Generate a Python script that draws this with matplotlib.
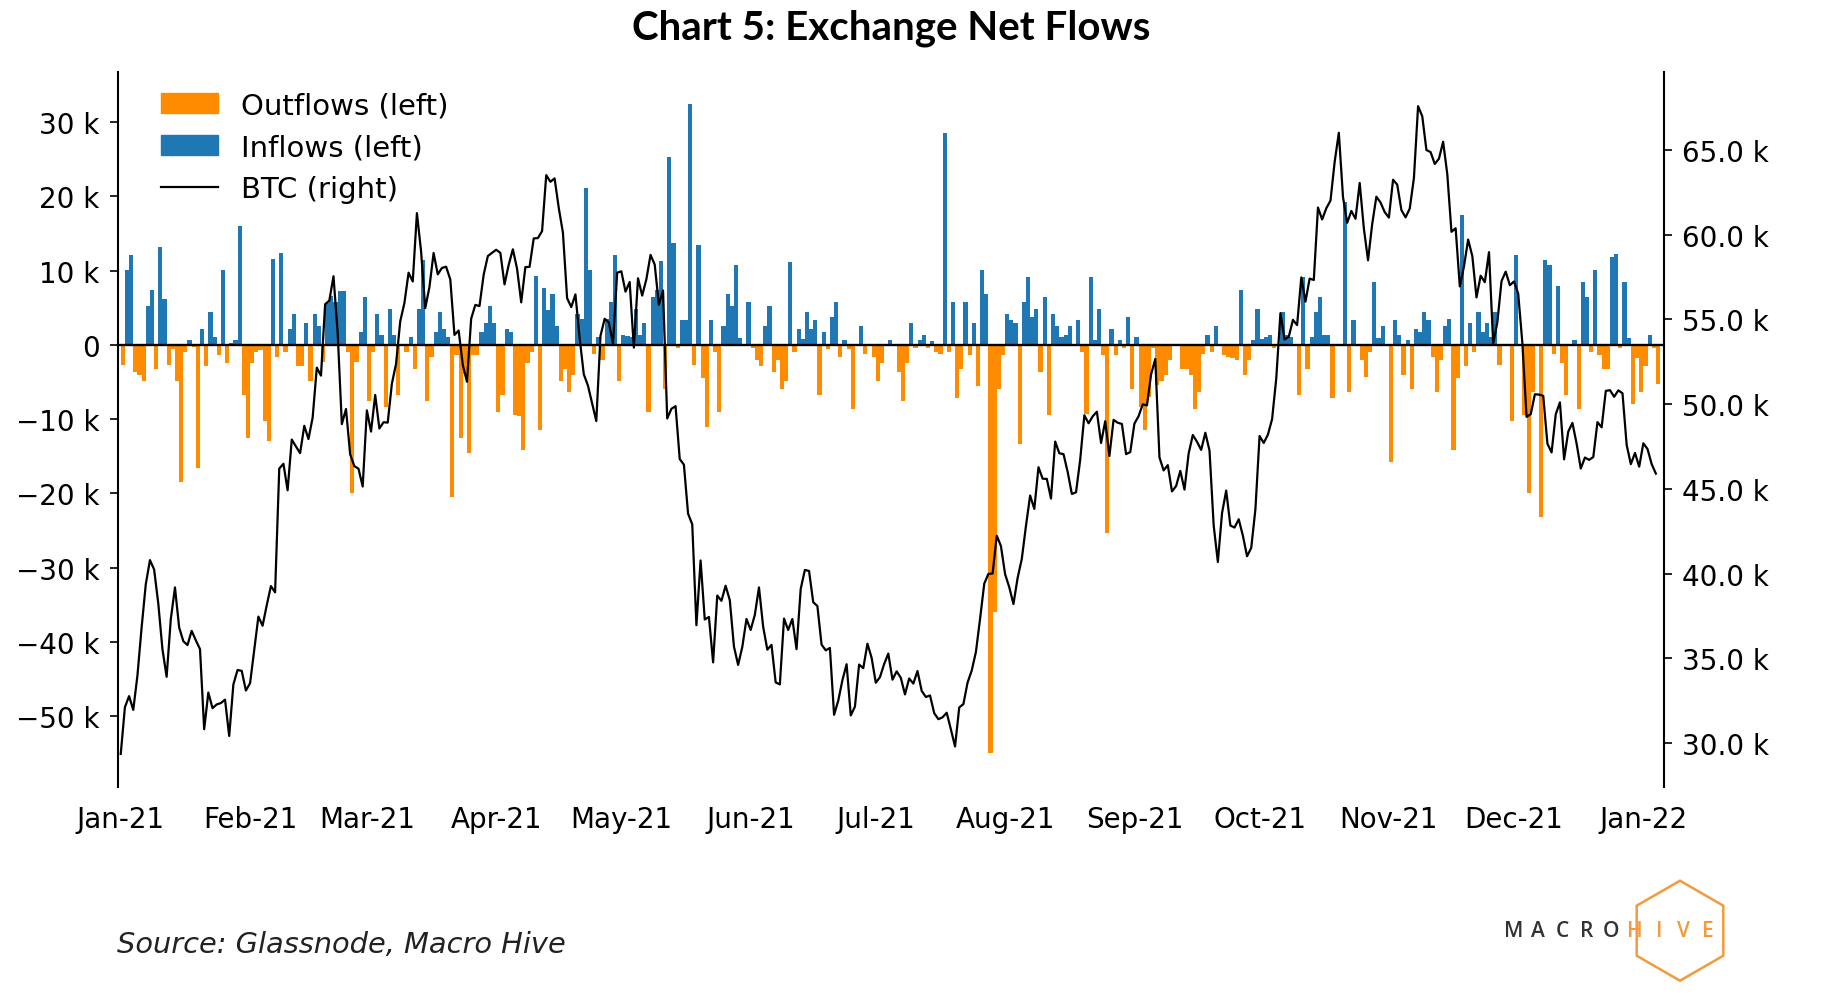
#!/usr/bin/env python3
"""Chart 5: exchange net flows (daily, 2021) against the BTC price."""

import numpy as np
import pandas as pd
import matplotlib

matplotlib.use("Agg")
import matplotlib.pyplot as plt
import matplotlib.dates as mdates
from matplotlib.lines import Line2D
from matplotlib.patches import Patch, RegularPolygon
from matplotlib.ticker import EngFormatter, MultipleLocator


# daily net exchange flows, thousands of BTC (negative = outflow)
flow_jan = [-2.7, 10.1, 12.1, -3.6, -4.0, -4.8, 5.3, 7.4, -3.2, 13.2, 6.2, -2.7, -0.5, -4.8, -18.5, -0.9,
            0.6, -0.3, -16.6, 2.2, -2.8, 4.5, 1.1, -1.3, 10.1, -2.5, 0.2, 0.6, 16.0, -6.7, -12.6]
flow_feb = [-2.4, -0.9, -0.7, -10.3, -13.0, 11.6, -1.6, 12.4, -0.9, 2.2, 4.1, -2.8, -2.8, 3.0, -4.8, 4.1,
            2.6, -2.3, 5.6, 6.6, 5.8, 7.3, 7.3, -0.9, -20.0, -2.3, 1.8, 6.5]
flow_mar = [-7.6, -1.0, 4.1, 1.4, -8.4, 4.9, 1.3, -6.7, 0.0, -0.9, 1.1, -3.2, 4.9, 11.5, -7.5, -1.6,
            1.8, 4.5, 2.2, 1.1, -20.5, -1.4, -12.6, -3.9, -14.6, -1.4, -1.4, 1.8, 2.9, 5.3, 2.9]
flow_apr = [-9.0, -6.7, 2.2, 1.8, -9.5, -9.6, -14.2, -2.4, -0.9, 9.3, -11.5, 7.7, 4.7, 6.9, 2.6, -4.8,
            -3.3, -6.3, -4.0, 4.2, 3.5, 21.1, 10.1, -1.2, 1.1, -2.1, 3.5, 5.8, 12.1, -4.8]
flow_may = [1.3, 1.2, 1.0, 4.9, 1.4, 3.0, -9.0, 6.5, 7.4, 11.3, -5.9, 25.3, 13.7, -0.4, 3.3, 3.3,
            32.4, -2.7, 13.5, -4.4, -11.1, 3.3, -0.9, -9.0, 2.6, 6.9, 5.3, 10.8, 0.9, 0.0, 5.8]
flow_jun = [-0.4, -2.1, -2.8, 2.6, 5.3, -3.6, -2.1, -5.9, -4.8, 11.2, -0.9, 2.2, 0.8, 4.5, 2.2, 3.3,
            -6.7, 1.8, -0.5, 3.8, 5.8, -1.6, 0.6, -0.5, -8.7, 0.0, 2.6, -1.2, 0.0, -1.6]
flow_jul = [-4.8, -2.4, 0.0, 0.6, 0.0, -3.6, -7.6, -2.4, 2.9, -0.4, 0.6, 1.4, -0.4, 0.5, -0.9, -1.2,
            28.5, -0.9, 5.8, -7.1, -3.2, 5.8, -1.3, 3.0, -5.5, 10.1, 6.9, -55.0, -36.0, -5.9, -1.3]
flow_aug = [4.1, 3.3, 2.9, -13.4, 5.8, 9.2, 3.8, 4.9, -3.6, 6.5, -9.5, 4.1, 2.6, 1.1, 1.4, 2.6,
            0.0, 3.3, -0.9, -9.3, 9.2, 0.6, 4.9, -1.3, -25.4, 2.2, -1.3, 0.6, -0.4, 3.8, -5.9]
flow_sep = [1.1, -8.4, -11.5, -7.0, -0.4, -5.4, -4.8, -4.0, -2.1, 0.0, 0.0, -3.2, -3.3, -4.0, -8.7, -6.3,
            -1.2, 1.4, -0.9, 2.6, 0.0, -1.3, -1.6, -1.8, -2.1, 7.4, -4.0, -2.1, 0.6, 4.9]
flow_oct = [0.8, 1.1, 1.4, -0.4, 0.0, 4.5, 1.4, 1.1, 0.0, -6.7, 9.2, -3.2, 1.1, 4.5, 6.5, 1.4,
            1.4, -7.1, 0.0, 0.0, 19.3, -6.3, 3.3, 0.0, -2.1, -4.3, -0.9, 8.5, 0.9, 2.6, 0.0]
flow_nov = [-15.8, 3.3, 1.4, -4.0, 0.6, -5.9, 2.2, 1.8, 4.5, 3.3, -1.6, -6.3, -2.1, 2.6, 3.5, -14.2,
            -4.4, 17.5, -2.8, 2.9, -0.9, 4.5, 1.8, 2.9, 1.1, 4.5, -2.7, 0.0, 0.0, -10.3]
flow_dec = [12.1, 0.0, -9.5, -20.0, -6.3, 0.0, -23.2, 11.4, 10.8, -1.2, 8.0, -2.4, -6.7, 0.0, 0.6, -8.7,
            8.5, 6.5, -0.9, 10.1, -1.4, -3.2, -3.2, 11.9, 12.3, -0.4, 8.5, 0.9, -7.9, -1.8, -6.3]
flow_jan22 = [-2.8, 1.4, -0.4, -5.2]

# daily BTC close, thousands of USD
btc_jan = [29.37, 32.13, 32.78, 31.97, 33.99, 36.82, 39.37, 40.80, 40.25, 38.24, 35.54, 33.92, 37.32,
           39.19, 36.83, 36.02, 35.79, 36.63, 36.07, 35.55, 30.83, 32.99, 32.07, 32.29, 32.37, 32.57,
           30.43, 33.47, 34.32, 34.27, 33.11]
btc_feb = [33.54, 35.51, 37.47, 36.93, 38.14, 39.27, 38.90, 46.20, 46.48, 44.92, 47.91, 47.50, 47.11,
           48.72, 47.94, 49.20, 52.15, 51.68, 55.89, 56.10, 57.54, 54.21, 48.82, 49.71, 47.03, 46.34,
           46.19, 45.14]
btc_mar = [49.63, 48.38, 50.54, 48.56, 48.93, 48.91, 51.21, 52.38, 54.88, 55.96, 57.75, 57.23, 61.26,
           59.00, 55.66, 56.90, 58.91, 57.65, 58.03, 58.10, 57.35, 54.08, 54.34, 52.30, 51.32, 55.03,
           55.85, 55.78, 57.63, 58.73, 58.92]
btc_apr = [59.10, 58.92, 57.06, 58.21, 59.13, 57.99, 56.00, 58.08, 58.09, 59.77, 59.79, 60.20, 63.50,
           63.11, 63.31, 61.57, 60.11, 56.25, 55.72, 56.47, 53.91, 51.76, 51.09, 50.05, 49.00, 54.02,
           55.03, 54.82, 53.56, 57.75]
btc_may = [57.83, 56.63, 57.20, 53.33, 57.42, 56.40, 57.36, 58.80, 58.23, 55.86, 56.70, 49.15, 49.72,
           49.88, 46.76, 46.43, 43.54, 42.91, 36.96, 40.78, 37.30, 37.45, 34.77, 38.71, 38.40, 39.29,
           38.44, 35.70, 34.62, 35.68, 37.33]
btc_jun = [36.68, 37.57, 39.19, 36.87, 35.52, 35.80, 33.59, 33.47, 37.35, 36.68, 37.33, 35.55, 39.10,
           40.22, 40.16, 38.32, 38.09, 35.82, 35.48, 35.62, 31.68, 32.51, 33.72, 34.66, 31.64, 32.16,
           34.64, 34.43, 35.87, 35.04]
btc_jul = [33.57, 33.90, 34.67, 35.29, 33.75, 34.24, 33.86, 32.88, 33.82, 33.52, 34.26, 33.09, 32.73,
           32.82, 31.78, 31.42, 31.53, 31.80, 30.82, 29.81, 32.11, 32.31, 33.58, 34.29, 35.38, 37.34,
           39.41, 39.99, 40.01, 42.24, 41.63]
btc_aug = [39.97, 39.20, 38.21, 39.75, 40.87, 42.82, 44.61, 43.82, 46.28, 45.60, 45.59, 44.43, 47.79,
           47.10, 47.05, 46.00, 44.70, 44.80, 46.72, 49.34, 48.87, 49.28, 49.55, 47.71, 48.99, 46.94,
           49.07, 48.90, 48.83, 47.05, 47.17]
btc_sep = [48.85, 49.29, 49.99, 49.92, 51.76, 52.66, 46.86, 46.09, 46.40, 44.85, 45.17, 46.06, 44.96,
           47.09, 48.18, 47.78, 47.30, 48.31, 47.26, 42.84, 40.69, 43.57, 44.90, 42.84, 42.72, 43.21,
           42.24, 41.03, 41.52, 43.79]
btc_oct = [48.12, 47.71, 48.20, 49.11, 51.51, 55.36, 53.81, 53.97, 54.97, 54.66, 57.47, 56.04, 57.40,
           57.32, 61.59, 60.89, 61.55, 62.00, 64.28, 66.00, 62.21, 60.69, 61.39, 60.93, 63.04, 60.36,
           58.48, 60.62, 62.23, 61.89, 61.32]
btc_nov = [61.00, 63.23, 62.94, 61.44, 61.01, 61.53, 63.33, 67.57, 66.97, 64.98, 64.86, 64.16, 64.47,
           65.47, 63.56, 60.16, 60.37, 56.94, 58.12, 59.70, 58.73, 56.29, 57.57, 57.19, 58.96, 53.57,
           54.82, 57.25, 57.81, 57.01]
btc_dec = [57.23, 56.51, 53.60, 49.25, 49.40, 50.58, 50.56, 50.49, 47.67, 47.15, 49.40, 50.10, 46.74,
           48.38, 48.89, 47.67, 46.20, 46.85, 46.71, 46.88, 48.94, 48.63, 50.78, 50.82, 50.43, 50.81,
           50.64, 47.59, 46.46, 47.12, 46.31]
btc_jan22 = [47.69, 47.35, 46.46, 45.90]

ORANGE = "#ff8c00"
BLUE = "#1f77b4"
LOGO_ORANGE = "#f39a3c"

flows = 1000.0 * np.array(flow_jan + flow_feb + flow_mar + flow_apr + flow_may + flow_jun + flow_jul
                          + flow_aug + flow_sep + flow_oct + flow_nov + flow_dec + flow_jan22)
btc = 1000.0 * np.array(btc_jan + btc_feb + btc_mar + btc_apr + btc_may + btc_jun + btc_jul
                        + btc_aug + btc_sep + btc_oct + btc_nov + btc_dec + btc_jan22)
dates = pd.date_range("2021-01-01", periods=len(flows), freq="D")

fig = plt.figure(figsize=(18.29, 10.03), dpi=100)
ax = fig.add_axes([0.0644, 0.2140, 0.8455, 0.7135])

inflows = np.where(flows > 0, flows, 0.0)
outflows = np.where(flows < 0, flows, 0.0)
ax.bar(dates, outflows, width=1.0, align="edge", color=ORANGE, linewidth=0)
ax.bar(dates, inflows, width=1.0, align="edge", color=BLUE, linewidth=0)
ax.axhline(0, color="black", lw=1.7)

ax.set_ylim(-59600, 36800)
ax.yaxis.set_major_locator(MultipleLocator(10000))
ax.yaxis.set_major_formatter(EngFormatter(places=0))
ax.set_xlim(pd.Timestamp("2020-12-31 07:00"), pd.Timestamp("2022-01-06"))
ax.xaxis.set_major_locator(mdates.MonthLocator())
ax.xaxis.set_major_formatter(mdates.DateFormatter("%b-%y"))
ax.tick_params(axis="x", length=0, pad=13, labelsize=20)
ax.tick_params(axis="y", length=6, width=1.2, pad=7, labelsize=20)
for side in ("top", "bottom", "right"):
    ax.spines[side].set_visible(False)
ax.spines["left"].set_linewidth(1.5)

ax2 = ax.twinx()
ax2.plot(dates, btc, color="black", lw=1.6)
ax2.set_ylim(27400, 69600)
ax2.yaxis.set_major_locator(MultipleLocator(5000))
ax2.yaxis.set_major_formatter(EngFormatter(places=1))
ax2.tick_params(axis="y", length=6, width=1.2, pad=7, labelsize=20)
for side in ("top", "bottom", "left"):
    ax2.spines[side].set_visible(False)
ax2.spines["right"].set_linewidth(1.5)

handles = [
    Patch(color=ORANGE, label="Outflows (left)"),
    Patch(color=BLUE, label="Inflows (left)"),
    Line2D([], [], color="black", lw=1.6, label="BTC (right)"),
]
ax2.legend(handles=handles, loc="upper left", bbox_to_anchor=(0.028, 0.973), frameon=False,
           fontsize=21, borderaxespad=0, borderpad=0, handlelength=1.95, handleheight=0.65,
           handletextpad=0.8, labelspacing=0.48)

fig.text(0.487, 0.972, "Chart 5: Exchange Net Flows", ha="center", va="center",
         fontsize=29, fontweight="bold", family="Lato")
fig.text(0.0638, 0.058, "Source: Glassnode, Macro Hive", ha="left", va="center",
         fontsize=20.8, style="italic", color="#222222")

# Macro Hive logo: hexagon outline with spaced letters
hexagon = RegularPolygon((16.80, 0.713), numVertices=6, radius=0.50, fill=False,
                         edgecolor=LOGO_ORANGE, linewidth=1.8, transform=fig.dpi_scale_trans)
fig.add_artist(hexagon)
for i, letter in enumerate("MACROHIVE"):
    color = "#333333" if i < 5 else LOGO_ORANGE
    fig.text((1514 + i * 24.25) / 1829, 0.071, letter, ha="center", va="center",
             fontsize=15, fontweight="semibold", color=color, family="Open Sans")

fig.savefig("out.png", dpi=100)
